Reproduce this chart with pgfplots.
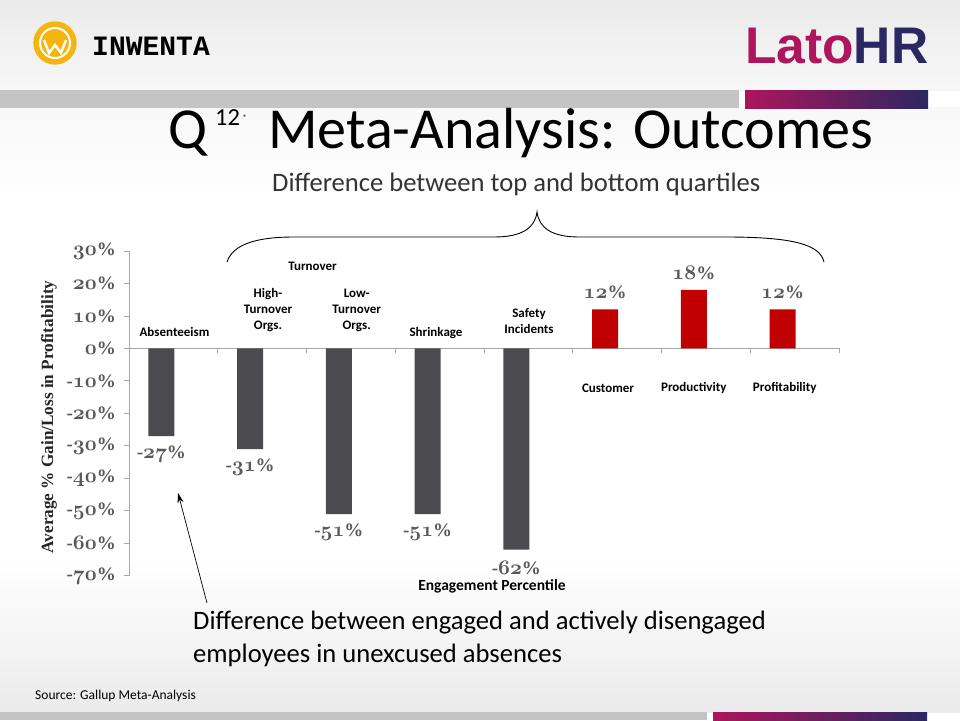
\documentclass[border=0pt]{standalone}
\usepackage{pgfplots}
\pgfplotsset{compat=1.18}
\usepackage{pgfplotstable}
\usetikzlibrary{arrows.meta}
\usepackage{fontspec}
\setmainfont{Carlito}
\newfontfamily\georgia{Liberation Serif}
\newfontfamily\arialf{Liberation Sans}
\newfontfamily\monof{Liberation Mono}
\definecolor{darkbar}{HTML}{4A4A4F}
\definecolor{redbar}{HTML}{C00000}
\definecolor{labgray}{HTML}{595959}
\definecolor{axisgray}{HTML}{A6A6A6}
\definecolor{mag}{HTML}{AD155C}
\definecolor{navy}{HTML}{2B2762}
\definecolor{logoyel}{HTML}{F5B50F}
\definecolor{bandgray}{HTML}{C4C4C4}
\newcommand\osn[1]{{\fontsize{22}{22}\usefont{OML}{cmm}{b}{it}#1}}
\newcommand\pct[2]{{\georgia\bfseries#1}\osn{#2}{\georgia\bfseries\%}}
\newcommand\fs[1]{\fontsize{#1}{#1}\selectfont}
\newcommand\fsl[2]{\fontsize{#1}{#2}\selectfont}

\pgfplotstableread{
x y lab
0.5 -27 27
1.5 -31 31
2.5 -51 51
3.5 -51 51
4.5 -62 62
}\negdata
\pgfplotstableread{
x y lab
5.5 12 12
6.5 18 18
7.5 12 12
}\posdata

\begin{document}
\begin{tikzpicture}[x=1pt,y=-1pt]
% background
\fill[white] (0,0) rectangle (960,720);
\shade[top color=gray!16, bottom color=gray!6] (0,0) rectangle (960,90);
\shade[top color=gray!6, bottom color=white] (0,107) rectangle (960,200);
\shade[top color=white, bottom color=gray!16] (0,560) rectangle (960,712);
\fill[bandgray] (0,90) rectangle (739,108);
\shade[left color=mag, right color=navy] (745,90) rectangle (928,108);
\fill[bandgray] (0,712) rectangle (707,720);
\shade[left color=mag, right color=navy] (713,712) rectangle (927,720);
% logos
\fill[logoyel] (55,43) circle (21.7);
\draw[white, line width=2pt] (55,43) circle (15);
\draw[white, line width=2.4pt] (44,40) -- (49,53) -- (55,45) -- (61,53) -- (66,40);
\node[anchor=west, inner sep=0, font=\monof\bfseries\fs{28}] at (92,46.5) {INWENTA};
\node[anchor=base west, inner sep=0, font=\arialf\bfseries\fs{51.5}] at (745,63) {\textcolor{mag}{Lato}\textcolor{navy}{HR}};
% title
\node[anchor=base west, inner sep=0, font=\fs{58}] at (168,148) {Q};
\node[anchor=base west, inner sep=0, font=\fs{24.5}] at (215,125.5) {12};
\node[anchor=base west, inner sep=0, font=\fs{8}] at (243,120) {\textregistered};
\node[anchor=base west, inner sep=0, font=\fs{58}] at (268,148) {Meta-Analysis: Outcomes};
\node[anchor=base west, inner sep=0, font=\fs{26.6}, text=black!80] at (272,191.5) {Difference between top and bottom quartiles};
% brace
\draw[line width=0.9pt] (227,262) .. controls (233,243) and (260,237) .. (294,237) -- (494,237)
  .. controls (522,237) and (535,228) .. (537,212)
  .. controls (539,228) and (552,237) .. (579,237) -- (726,237)
  .. controls (795,237) and (820,245) .. (824,262);
% axis
\begin{axis}[
  at={(129pt,-575.7pt)}, anchor=south west, scale only axis,
  width=710pt, height=324.7pt,
  xmin=0, xmax=8, ymin=-70, ymax=30,
  axis y line=left, axis x line=middle,
  axis line style={draw=axisgray, line width=0.8pt, -},
  hide obscured x ticks=false, hide obscured y ticks=false,
  xtick={1,...,8}, xticklabels={},
  ytick={-70,-60,...,30},
  yticklabels={\pct{-}{70},\pct{-}{60},\pct{-}{50},\pct{-}{40},\pct{-}{30},\pct{-}{20},\pct{-}{10},\pct{}{0},\pct{}{10},\pct{}{20},\pct{}{30}},
  major tick length=5pt,
  xtick align=outside, ytick align=outside,
  tick style={draw=axisgray, line width=0.8pt},
  yticklabel style={font=\fs{19}, text=labgray, anchor=east, inner sep=0pt, xshift=-8pt},
  clip=false,
]
\addplot[ybar, bar width=26pt, bar shift=-12pt, fill=darkbar, draw=none,
  point meta=explicit symbolic,
  nodes near coords={\pct{-}{\pgfplotspointmeta}},
  every node near coord/.append style={anchor=center, xshift=-12pt, yshift=-18pt, font=\fs{19}, text=labgray, inner sep=0pt}]
  table[x=x, y=y, meta=lab] {\negdata};
\addplot[ybar, bar width=26pt, bar shift=-12pt, fill=redbar, draw=none,
  point meta=explicit symbolic,
  nodes near coords={\pct{}{\pgfplotspointmeta}},
  every node near coord/.append style={anchor=center, xshift=-12pt, yshift=17pt, font=\fs{19}, text=labgray, inner sep=0pt}]
  table[x=x, y=y, meta=lab] {\posdata};
\end{axis}
% y label
\node[rotate=90, inner sep=0, font=\georgia\bfseries\fs{17.2}, text=black!85] at (49,417) {Average \% Gain/Loss in Profitability};
% category labels
\begin{scope}[every node/.style={font=\bfseries\fs{13}, align=center, inner sep=0}]
\node at (174.5,331.7) {Absenteeism};
\node at (312.5,266.7) {Turnover};
\node[font=\bfseries\fsl{13}{16}] at (268,310.5) {High-\\Turnover\\Orgs.};
\node[font=\bfseries\fsl{13}{16}] at (356.7,310.5) {Low-\\Turnover\\Orgs.};
\node at (436,333.3) {Shrinkage};
\node[font=\bfseries\fsl{13}{16}] at (529,321.2) {Safety\\Incidents};
\node at (608,388.3) {Customer};
\node at (693.8,388.3) {Productivity};
\node at (784.7,388.3) {Profitability};
\node[font=\bfseries\fs{15.5}] at (492,586) {Engagement Percentile};
\end{scope}
% arrow and annotation
\draw[-{Stealth[length=10pt,width=6pt]}, line width=0.7pt] (207,603) -- (178,493);
\node[anchor=base west, inner sep=0, font=\fs{26.6}] at (193,629) {Difference between engaged and actively disengaged};
\node[anchor=base west, inner sep=0, font=\fs{26.6}] at (193,662) {employees in unexcused absences};
\node[anchor=base west, inner sep=0, font=\fs{13.5}] at (35,699) {Source: Gallup Meta-Analysis};
\end{tikzpicture}
\end{document}
